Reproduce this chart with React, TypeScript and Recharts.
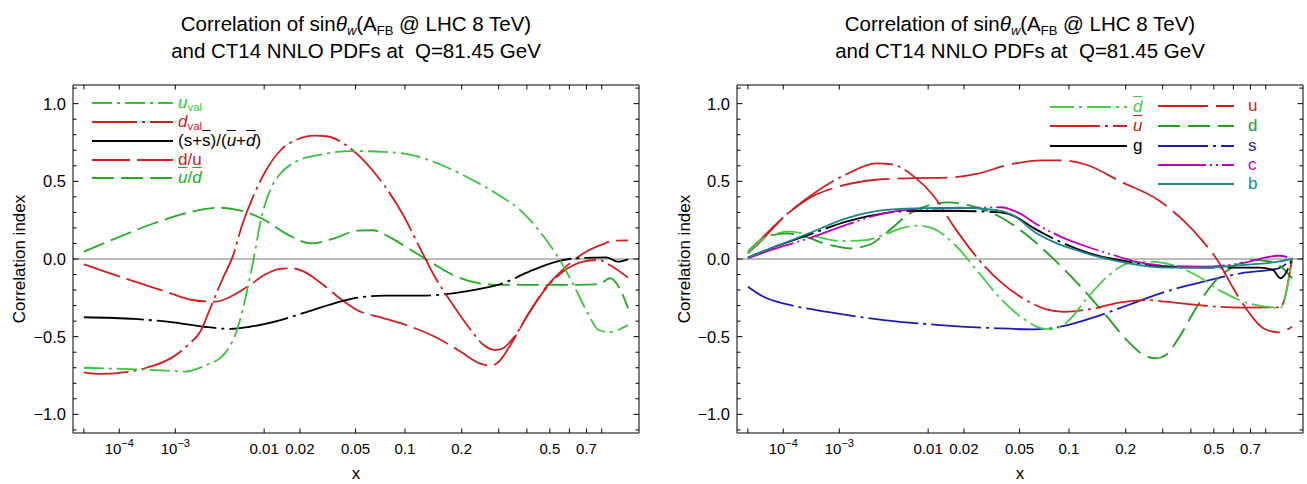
import React from 'react';
import { LineChart, Line, XAxis, YAxis, ReferenceLine } from 'recharts';

type Pt = [number, number];

const FONT = '"Liberation Sans", Arial, Helvetica, sans-serif';

// ---------- axis ticks ----------
const xTickValues = [1e-5, 1e-4, 1e-3, 0.01, 0.02, 0.05, 0.1, 0.2, 0.3, 0.4, 0.5, 0.6, 0.7, 0.8];
const xTickLabels = ['', '10^−4', '10^−3', '0.01', '0.02', '0.05', '0.1', '0.2', '', '', '0.5', '', '0.7', ''];
const yMajorTicks = [-1, -0.5, 0, 0.5, 1];
const yMajorLabels = ['−1.0', '−0.5', '0.0', '0.5', '1.0'];
const yMinorTicks = [-1.1, -0.9, -0.8, -0.7, -0.6, -0.4, -0.3, -0.2, -0.1, 0.1, 0.2, 0.3, 0.4, 0.6, 0.7, 0.8, 0.9, 1.1];

// ---------- left panel data (x, correlation) ----------
const uvalPts: Pt[] = [[1e-5, -0.70], [2.1e-4, -0.71], [9.3e-4, -0.72], [1.35e-3, -0.725], [2.6e-3, -0.68], [3.6e-3, -0.64], [4.5e-3, -0.575], [5.4e-3, -0.47], [6.2e-3, -0.34], [7.1e-3, -0.17], [8.0e-3, 0.0], [9.4e-3, 0.26], [1.15e-2, 0.455], [1.39e-2, 0.55], [1.86e-2, 0.627], [2.8e-2, 0.67], [4.6e-2, 0.695], [7.5e-2, 0.69], [0.108, 0.67], [0.158, 0.605], [0.225, 0.51], [0.301, 0.41], [0.367, 0.326], [0.443, 0.197], [0.533, 0.026], [0.614, -0.146], [0.704, -0.34], [0.779, -0.457], [0.86, -0.47], [0.917, -0.457], [1.0, -0.425]];
const dvalPts: Pt[] = [[1e-5, -0.73], [3.3e-5, -0.74], [1.24e-4, -0.73], [3.5e-4, -0.70], [9.3e-4, -0.63], [1.52e-3, -0.55], [2.13e-3, -0.47], [2.9e-3, -0.30], [3.9e-3, -0.124], [4.96e-3, 0.015], [6.2e-3, 0.22], [8.0e-3, 0.41], [1.02e-2, 0.56], [1.39e-2, 0.70], [1.86e-2, 0.766], [2.6e-2, 0.794], [3.17e-2, 0.79], [4.3e-2, 0.734], [5.74e-2, 0.627], [7.54e-2, 0.476], [9.77e-2, 0.283], [0.119, 0.09], [0.144, -0.103], [0.181, -0.296], [0.225, -0.468], [0.2555, -0.554], [0.289, -0.586], [0.313, -0.575], [0.353, -0.50], [0.411, -0.34], [0.495, -0.167], [0.592, -0.06], [0.68, -0.017], [0.779, -0.006], [0.86, -0.04], [1.0, -0.12]];
const ssbPts: Pt[] = [[1e-5, -0.375], [2.13e-4, -0.386], [9.3e-4, -0.408], [2.37e-3, -0.436], [4.73e-3, -0.45], [7.37e-3, -0.436], [1.39e-2, -0.393], [2.28e-2, -0.34], [3.59e-2, -0.285], [5.13e-2, -0.249], [7.54e-2, -0.236], [0.125, -0.236], [0.181, -0.221], [0.245, -0.193], [0.313, -0.157], [0.411, -0.08], [0.533, -0.017], [0.635, 0.004], [0.833, 0.01], [0.917, -0.017], [1.0, -0.002]];
const duPts: Pt[] = [[1e-5, -0.034], [4.3e-5, -0.08], [2.13e-4, -0.146], [7.2e-4, -0.21], [1.7e-3, -0.264], [3.2e-3, -0.275], [4.7e-3, -0.243], [7.4e-3, -0.167], [1.02e-2, -0.10], [1.39e-2, -0.064], [1.73e-2, -0.06], [2.13e-2, -0.08], [2.8e-2, -0.146], [3.8e-2, -0.243], [5.1e-2, -0.328], [7.54e-2, -0.382], [0.108, -0.436], [0.151, -0.51], [0.198, -0.597], [0.245, -0.672], [0.277, -0.687], [0.301, -0.66], [0.339, -0.554], [0.396, -0.382], [0.478, -0.189], [0.572, -0.06], [0.68, 0.036], [0.805, 0.094], [0.888, 0.118], [1.0, 0.12]];
const ubdbPts: Pt[] = [[1e-5, 0.047], [8.3e-5, 0.133], [4.7e-4, 0.23], [1.7e-3, 0.305], [3.56e-3, 0.33], [5.68e-3, 0.315], [9.44e-3, 0.262], [1.61e-2, 0.155], [2.44e-2, 0.10], [3.59e-2, 0.133], [5.13e-2, 0.182], [6.41e-2, 0.185], [8.38e-2, 0.133], [0.108, 0.058], [0.1375, -0.017], [0.181, -0.103], [0.245, -0.157], [0.313, -0.167], [0.533, -0.167], [0.779, -0.163], [0.86, -0.124], [0.932, -0.189], [1.0, -0.318]];

// ---------- right panel data ----------
const dbarPts: Pt[] = [[1e-5, 0.036], [3.16e-5, 0.133], [1.4e-4, 0.176], [4.4e-4, 0.144], [9.8e-4, 0.116], [2.19e-3, 0.122], [3.6e-3, 0.155], [5.7e-3, 0.20], [8.0e-3, 0.215], [1.1e-2, 0.197], [1.7e-2, 0.09], [2.55e-2, -0.08], [3.71e-2, -0.253], [5.26e-2, -0.382], [6.9e-2, -0.446], [8.07e-2, -0.453], [9.89e-2, -0.40], [0.126, -0.253], [0.165, -0.103], [0.206, -0.028], [0.253, -0.017], [0.31, -0.028], [0.42, -0.103], [0.54, -0.21], [0.687, -0.285], [0.907, -0.313], [1.0, 0.0]];
const ubarPts: Pt[] = [[1e-5, 0.036], [3.16e-5, 0.144], [1.4e-4, 0.305], [4.4e-4, 0.433], [1.25e-3, 0.545], [2.98e-3, 0.616], [4.36e-3, 0.61], [7.4e-3, 0.53], [1.1e-2, 0.412], [1.7e-2, 0.197], [2.55e-2, 0.004], [3.71e-2, -0.146], [5.26e-2, -0.253], [7.28e-2, -0.322], [9.4e-2, -0.34], [0.132, -0.322], [0.189, -0.279], [0.253, -0.264], [0.31, -0.275], [0.452, -0.30], [0.642, -0.313], [0.907, -0.311], [1.0, 0.004]];
const gPts: Pt[] = [[1e-5, 0.009], [5.06e-5, 0.069], [3.24e-4, 0.155], [1.25e-3, 0.24], [3.6e-3, 0.294], [7.4e-3, 0.309], [1.83e-2, 0.309], [3.71e-2, 0.30], [4.69e-2, 0.273], [6.2e-2, 0.197], [8.07e-2, 0.133], [0.109, 0.069], [0.144, 0.021], [0.206, -0.017], [0.286, -0.045], [0.452, -0.056], [0.759, -0.056], [0.85, -0.07], [0.907, -0.124], [1.0, 0.0]];
const uPts: Pt[] = [[1e-5, 0.036], [3.16e-5, 0.133], [9.5e-5, 0.26], [3.24e-4, 0.39], [9.8e-4, 0.466], [2.98e-3, 0.51], [7.4e-3, 0.52], [1.48e-2, 0.524], [2.55e-2, 0.55], [4.18e-2, 0.605], [6.9e-2, 0.635], [8.94e-2, 0.635], [0.126, 0.605], [0.189, 0.498], [0.286, 0.38], [0.376, 0.24], [0.452, 0.11], [0.522, -0.017], [0.6, -0.19], [0.687, -0.34], [0.784, -0.446], [0.892, -0.472], [1.0, -0.436]];
const dPts: Pt[] = [[1e-5, 0.047], [3.16e-5, 0.133], [1.16e-4, 0.165], [2.76e-4, 0.144], [6.65e-4, 0.094], [1.41e-3, 0.069], [2.43e-3, 0.09], [3.98e-3, 0.176], [6.78e-3, 0.294], [1.1e-2, 0.352], [1.48e-2, 0.365], [2.24e-2, 0.343], [3.49e-2, 0.283], [5.56e-2, 0.155], [8.07e-2, 0.004], [0.114, -0.167], [0.158, -0.36], [0.206, -0.532], [0.253, -0.629], [0.28, -0.64], [0.31, -0.618], [0.361, -0.489], [0.42, -0.318], [0.504, -0.146], [0.6, -0.049], [0.71, -0.006], [0.837, -0.017], [0.921, -0.056], [1.0, -0.124]];
const sPts: Pt[] = [[1e-5, -0.178], [3.16e-5, -0.243], [1.4e-4, -0.296], [6.65e-4, -0.34], [3.6e-3, -0.393], [1.28e-2, -0.425], [3.49e-2, -0.446], [6.2e-2, -0.453], [8.94e-2, -0.436], [0.132, -0.382], [0.206, -0.296], [0.31, -0.21], [0.452, -0.146], [0.642, -0.092], [0.892, -0.06], [1.0, 0.004]];
const cPts: Pt[] = [[1e-5, 0.004], [5.06e-5, 0.058], [3.24e-4, 0.133], [1.25e-3, 0.219], [3.6e-3, 0.294], [7.4e-3, 0.32], [1.83e-2, 0.326], [3.71e-2, 0.333], [5.0e-2, 0.294], [6.54e-2, 0.219], [8.94e-2, 0.144], [0.126, 0.079], [0.173, 0.026], [0.224, -0.017], [0.31, -0.043], [0.452, -0.049], [0.642, -0.028], [0.892, 0.021], [1.0, 0.004]];
const bPts: Pt[] = [[1e-5, 0.009], [5.06e-5, 0.069], [3.24e-4, 0.165], [1.25e-3, 0.262], [3.6e-3, 0.315], [7.4e-3, 0.326], [1.83e-2, 0.33], [3.49e-2, 0.315], [4.69e-2, 0.273], [6.2e-2, 0.176], [8.07e-2, 0.112], [0.109, 0.058], [0.144, 0.015], [0.206, -0.028], [0.31, -0.056], [0.452, -0.056], [0.642, -0.039], [0.892, -0.017], [1.0, 0.0]];

// ---------- styling ----------
const COL = {
  green: '#36c436',
  green2: '#22ad22',
  lgreen: '#44cc44',
  dgreen: '#1c9f1c',
  red: '#cc2020',
  black: '#000000',
  blue: '#1c1cb4',
  magenta: '#bb00bb',
  teal: '#1a8888',
};
const DASH = {
  uval: '20 5 3 5',
  dval: '45 5 3 5',
  ssb: '60 5 3 5',
  du: '38 7',
  ubdb: '22 7',
  dbar: '24 5 3 5',
  ubar: '50 5 3 5',
  g: '70 5 3 5',
  u: '50 8',
  d: '22 8',
  s: '50 5 3 5',
  c: '48 4 2 4 2 4',
};

const TICK_FS = 15;
const YTICK_FS = 16.5;
const LABEL_FS = 17;

// x-axis transform: the frame uses x^0.2
const T = (x: number) => Math.pow(x, 0.2);
const PLOT_W = 566;
const T0 = 0.082;
const T1 = 1.018;
const Y0 = -1.12;
const Y1 = 1.12;

const xTickT = xTickValues.map(T);
const yTicksAll = [...yMajorTicks, ...yMinorTicks].sort((a, b) => a - b);

const toData = (pts: Pt[]) => pts.map(([x, v]) => ({ t: T(x), v }));

interface SeriesDef { key: string; pts: Pt[]; color: string; dash?: string; }

const leftSeries: SeriesDef[] = [
  { key: 'ubdb', pts: ubdbPts, color: COL.green2, dash: DASH.ubdb },
  { key: 'du', pts: duPts, color: COL.red, dash: DASH.du },
  { key: 'ssb', pts: ssbPts, color: COL.black, dash: DASH.ssb },
  { key: 'dval', pts: dvalPts, color: COL.red, dash: DASH.dval },
  { key: 'uval', pts: uvalPts, color: COL.green, dash: DASH.uval },
];
const rightSeries: SeriesDef[] = [
  { key: 's', pts: sPts, color: COL.blue, dash: DASH.s },
  { key: 'd', pts: dPts, color: COL.dgreen, dash: DASH.d },
  { key: 'u', pts: uPts, color: COL.red, dash: DASH.u },
  { key: 'ubar', pts: ubarPts, color: COL.red, dash: DASH.ubar },
  { key: 'dbar', pts: dbarPts, color: COL.lgreen, dash: DASH.dbar },
  { key: 'g', pts: gPts, color: COL.black, dash: DASH.g },
  { key: 'c', pts: cPts, color: COL.magenta, dash: DASH.c },
  { key: 'b', pts: bPts, color: COL.teal },
];

const renderXLabel = (label: string, x: number, y: number) => {
  if (label.startsWith('10^')) {
    return (
      <text x={x} y={y} textAnchor="middle" fontSize={TICK_FS} fontFamily={FONT} fill="#000">
        10<tspan dy={-7} fontSize={11}>{label.slice(3)}</tspan>
      </text>
    );
  }
  return (
    <text x={x} y={y} textAnchor="middle" fontSize={TICK_FS} fontFamily={FONT} fill="#000">{label}</text>
  );
};

const makeXTick = (side: 'bottom' | 'top') => (props: any) => {
  const { x, y, payload } = props;
  const v = payload.value;
  const i = xTickT.findIndex((t) => Math.abs(t - v) < 1e-9);
  const label = i >= 0 ? xTickLabels[i] : '';
  const dir = side === 'bottom' ? -1 : 1;
  return (
    <g>
      <line x1={x} x2={x} y1={y} y2={y + dir * 4.5} stroke="#000" strokeWidth={1} />
      {side === 'bottom' && label ? renderXLabel(label, x, y + 21) : null}
    </g>
  );
};

const makeYTick = (side: 'left' | 'right') => (props: any) => {
  const { x, y, payload } = props;
  const v = payload.value;
  const mi = yMajorTicks.findIndex((m) => Math.abs(m - v) < 1e-6);
  const len = mi >= 0 ? 5.5 : 3.5;
  const dir = side === 'left' ? 1 : -1;
  return (
    <g>
      <line x1={x} x2={x + dir * len} y1={y} y2={y} stroke="#000" strokeWidth={1} />
      {side === 'left' && mi >= 0 ? (
        <text x={x - 7} y={y} dy="0.36em" textAnchor="end" fontSize={YTICK_FS} fontFamily={FONT} fill="#000">
          {yMajorLabels[mi]}
        </text>
      ) : null}
    </g>
  );
};

const xTickBottom = makeXTick('bottom');
const xTickTop = makeXTick('top');
const yTickLeft = makeYTick('left');
const yTickRight = makeYTick('right');

function Panel({ left, width, yAxisWidth, series }: { left: number; width: number; yAxisWidth: number; series: SeriesDef[] }) {
  return (
    <div style={{ position: 'absolute', left, top: 0 }}>
      <LineChart
        width={width}
        height={484}
        margin={{ top: 84, right: width - yAxisWidth - PLOT_W - 1, bottom: 21, left: 0 }}
      >
        <XAxis
          dataKey="t"
          type="number"
          domain={[T0, T1]}
          allowDataOverflow
          ticks={xTickT}
          interval={0}
          orientation="bottom"
          height={30}
          tickSize={0}
          tickMargin={0}
          tickLine={false}
          axisLine={{ stroke: '#000', strokeWidth: 1 }}
          tick={xTickBottom}
        />
        <XAxis
          xAxisId="top"
          dataKey="t"
          type="number"
          domain={[T0, T1]}
          allowDataOverflow
          ticks={xTickT}
          interval={0}
          orientation="top"
          height={1}
          tickSize={0}
          tickMargin={0}
          tickLine={false}
          axisLine={{ stroke: '#000', strokeWidth: 1 }}
          tick={xTickTop}
        />
        <YAxis
          type="number"
          domain={[Y0, Y1]}
          allowDataOverflow
          ticks={yTicksAll}
          interval={0}
          width={yAxisWidth}
          tickSize={0}
          tickMargin={0}
          tickLine={false}
          axisLine={{ stroke: '#000', strokeWidth: 1 }}
          tick={yTickLeft}
        />
        <YAxis
          yAxisId="right"
          orientation="right"
          type="number"
          domain={[Y0, Y1]}
          allowDataOverflow
          ticks={yTicksAll}
          interval={0}
          width={1}
          tickSize={0}
          tickMargin={0}
          tickLine={false}
          axisLine={{ stroke: '#000', strokeWidth: 1 }}
          tick={yTickRight}
        />
        <ReferenceLine y={0} stroke="#777777" strokeWidth={1} />
        {series.map((s) => (
          <Line
            key={s.key}
            data={toData(s.pts)}
            dataKey="v"
            type="monotone"
            stroke={s.color}
            strokeWidth={1.8}
            strokeDasharray={s.dash}
            dot={false}
            activeDot={false}
            isAnimationActive={false}
          />
        ))}
      </LineChart>
    </div>
  );
}

const Sub = ({ children, size = 11.5, top = 3 }: { children: React.ReactNode; size?: number; top?: number }) => (
  <span style={{ fontSize: size, position: 'relative', top }}>{children}</span>
);
const Bar = ({ children }: { children: React.ReactNode }) => (
  <span style={{ textDecoration: 'overline' }}>{children}</span>
);

interface LegendDef { x1: number; x2: number; y: number; color: string; dash?: string; tx: number; label: React.ReactNode; }

const legendItems: LegendDef[] = [
  { x1: 92, x2: 173, y: 103, color: COL.green, dash: DASH.uval, tx: 178, label: <span style={{ color: COL.green }}><i>u</i><Sub>val</Sub></span> },
  { x1: 92, x2: 173, y: 122, color: COL.red, dash: DASH.dval, tx: 178, label: <span style={{ color: COL.red }}><i>d</i><Sub>val</Sub></span> },
  { x1: 92, x2: 173, y: 141, color: COL.black, tx: 178, label: <span>(s+<Bar>s</Bar>)/(<Bar><i>u</i></Bar>+<Bar><i>d</i></Bar>)</span> },
  { x1: 92, x2: 173, y: 160, color: COL.red, dash: DASH.du, tx: 178, label: <span style={{ color: COL.red }}>d/u</span> },
  { x1: 92, x2: 173, y: 178, color: COL.green2, dash: DASH.ubdb, tx: 178, label: <span style={{ color: COL.green2 }}><Bar><i>u</i></Bar>/<Bar><i>d</i></Bar></span> },
  { x1: 1050, x2: 1127, y: 107, color: COL.lgreen, dash: DASH.dbar, tx: 1133, label: <span style={{ color: COL.lgreen }}><Bar><i>d</i></Bar></span> },
  { x1: 1050, x2: 1127, y: 126, color: COL.red, dash: DASH.ubar, tx: 1133, label: <span style={{ color: COL.red }}><Bar><i>u</i></Bar></span> },
  { x1: 1050, x2: 1127, y: 146, color: COL.black, tx: 1133, label: <span>g</span> },
  { x1: 1158, x2: 1234, y: 106, color: COL.red, dash: DASH.u, tx: 1248, label: <span style={{ color: COL.red }}>u</span> },
  { x1: 1158, x2: 1234, y: 126, color: COL.dgreen, dash: DASH.d, tx: 1248, label: <span style={{ color: COL.dgreen }}>d</span> },
  { x1: 1158, x2: 1234, y: 146, color: COL.blue, dash: DASH.s, tx: 1248, label: <span style={{ color: COL.blue }}>s</span> },
  { x1: 1158, x2: 1234, y: 165, color: COL.magenta, dash: DASH.c, tx: 1248, label: <span style={{ color: COL.magenta }}>c</span> },
  { x1: 1158, x2: 1234, y: 184, color: COL.teal, tx: 1248, label: <span style={{ color: COL.teal }}>b</span> },
];

const Title = ({ cx }: { cx: number }) => (
  <div
    style={{
      position: 'absolute', left: cx - 300, width: 600, top: 12, textAlign: 'center',
      fontSize: 20.5, lineHeight: '24px', color: '#000', whiteSpace: 'pre',
    }}
  >
    Correlation of sin<i>θ</i><Sub size={13} top={4}><i>w</i></Sub>(A<Sub size={13} top={4}>FB</Sub> @ LHC 8 TeV)
    <br />
    {'and CT14 NNLO PDFs at  Q=81.45 GeV'}
  </div>
);

export default function App() {
  return (
    <div style={{ position: 'absolute', left: 0, top: 0, width: 1307, height: 484, background: '#fff', fontFamily: FONT, overflow: 'hidden' }}>
      <Panel left={0} width={650} yAxisWidth={73} series={leftSeries} />
      <Panel left={650} width={657} yAxisWidth={87} series={rightSeries} />
      <svg width={1307} height={484} style={{ position: 'absolute', left: 0, top: 0, pointerEvents: 'none' }}>
        {legendItems.map((l, i) => (
          <line key={i} x1={l.x1} x2={l.x2} y1={l.y} y2={l.y} stroke={l.color} strokeWidth={1.8} strokeDasharray={l.dash} />
        ))}
        <text x={19} y={259} transform="rotate(-90 19 259)" textAnchor="middle" dy="0.35em" fontSize={LABEL_FS} fontFamily={FONT}>Correlation index</text>
        <text x={684} y={259} transform="rotate(-90 684 259)" textAnchor="middle" dy="0.35em" fontSize={LABEL_FS} fontFamily={FONT}>Correlation index</text>
        <text x={356} y={479} textAnchor="middle" fontSize={LABEL_FS} fontFamily={FONT}>x</text>
        <text x={1020} y={479} textAnchor="middle" fontSize={LABEL_FS} fontFamily={FONT}>x</text>
      </svg>
      {legendItems.map((l, i) => (
        <div key={i} style={{ position: 'absolute', left: l.tx, top: l.y - 11, lineHeight: '22px', fontSize: LABEL_FS, whiteSpace: 'nowrap' }}>
          {l.label}
        </div>
      ))}
      <Title cx={356} />
      <Title cx={1020} />
    </div>
  );
}
